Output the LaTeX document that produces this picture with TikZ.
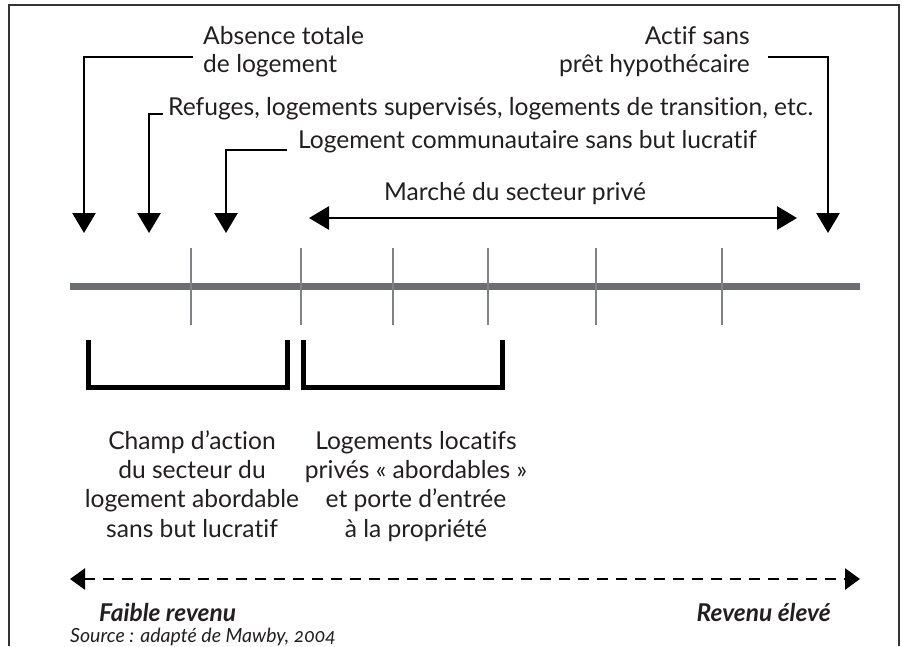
\documentclass[tikz,border=0pt]{standalone}
\usepackage{fontspec}
\setmainfont{Lato}[Numbers=OldStyle, Ligatures=NoCommon]
\usetikzlibrary{arrows.meta}
\definecolor{framec}{HTML}{333333}
\definecolor{axisc}{HTML}{6D6E71}
\definecolor{tickc}{HTML}{808285}
\definecolor{textc}{HTML}{231F20}
\begin{document}
\begin{tikzpicture}[x=1pt,y=-1pt,
  lbl/.style={inner sep=0pt, text=textc, font=\fontsize{24.6}{28}\selectfont},
  blbl/.style={inner sep=0pt, text=textc, font=\fontsize{24.6}{29.3}\selectfont},
  foot/.style={inner sep=0pt, text=textc, font=\fontsize{24.5}{28}\selectfont\bfseries\itshape},
  src/.style={inner sep=0pt, text=textc, font=\fontsize{19.5}{22}\selectfont\itshape},
  conn/.style={line width=2.8pt, -{Triangle[length=20pt,width=23pt]}},
  dbl/.style={line width=2.8pt, {Triangle[length=20pt,width=23pt]}-{Triangle[length=20pt,width=23pt]}},
  dashedarr/.style={line width=2.6pt, dash pattern=on 11pt off 8pt, {Triangle[length=15pt,width=21pt]}-{Triangle[length=15pt,width=21pt]}},
  axisline/.style={line width=7pt, axisc},
  tickline/.style={line width=2.2pt, tickc},
  brk/.style={line width=5pt, black, line join=miter},
  framel/.style={line width=2pt, framec}]
\useasboundingbox (0,0) rectangle (902,646);

% frame (open at bottom)
\draw[framel] (9,646) -- (9,5) -- (899,5) -- (899,646);

% top labels (base anchor = last line's baseline)
\node[lbl, anchor=base west, align=left] (absence) at (203,72) {Absence totale\\de logement};
\node[lbl, anchor=base east, align=right] (actif) at (750,72) {Actif sans\hspace{5pt}\\prêt hypothécaire};
\node[lbl, anchor=base west] (refuges) at (168,115) {Refuges, logements supervisés, logements de transition, etc.};
\node[lbl, anchor=base west] (logcom) at (298,148) {Logement communautaire sans but lucratif};
\node[lbl, anchor=base] (marche) at (515,200) {Marché du secteur privé};

% connector coordinates
\coordinate (sA) at (193,57);
\coordinate (tA) at (84,233);
\coordinate (sR) at (163,114);
\coordinate (tR) at (149,233);
\coordinate (sL) at (287,150);
\coordinate (tL) at (226,233);
\coordinate (sP) at (768,57);
\coordinate (tP) at (828,233);
\coordinate (mL) at (309,218);
\coordinate (mR) at (797,218);

\draw[conn] (sA) -| (tA);
\draw[conn] (sR) -| (tR);
\draw[conn] (sL) -| (tL);
\draw[conn] (sP) -| (tP);
\draw[dbl] (mL) -- (mR);

% axis and ticks
\draw[axisline] (70,286) -- (860,286);
\foreach \x in {191,301,393,488,596,722}
  \draw[tickline] (\x,248) -- (\x,325);

% brackets
\draw[brk] (88,340) |- (287,387) -- (287,340);
\draw[brk] (303,340) |- (502,387) -- (502,340);

% bracket labels (base anchor = last line's baseline)
\node[blbl, anchor=base, align=center] (champ) at (192,537) {Champ d’action\\du secteur du\\logement abordable\\sans but lucratif};
\node[blbl, anchor=base, align=center] (locatifs) at (416,537) {Logements locatifs\\privés « abordables »\\et porte d’entrée\\à la propriété};

% income axis
\coordinate (dL) at (70,579);
\coordinate (dR) at (860,579);
\draw[dashedarr] (dL) -- (dR);

\node[foot, anchor=base west] (faible) at (99,621) {Faible revenu};
\node[foot, anchor=base east] (eleve) at (831,621) {Revenu élevé};
\node[src, anchor=base west] (source) at (70,642) {Source : adapté de Mawby, 2004};
\end{tikzpicture}
\end{document}
